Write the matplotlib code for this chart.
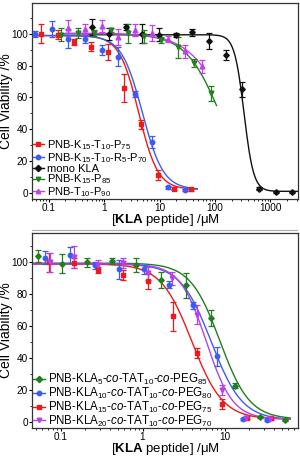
import numpy as np
import matplotlib
matplotlib.use("Agg")
import matplotlib.pyplot as plt
from matplotlib.lines import Line2D
from matplotlib.ticker import LogLocator, FixedLocator, FixedFormatter

plt.rcParams['font.family'] = ['Liberation Sans', 'DejaVu Sans']
plt.rcParams['mathtext.fontset'] = 'custom'
plt.rcParams['mathtext.rm'] = 'Liberation Sans'
plt.rcParams['mathtext.it'] = 'Liberation Sans:italic'
plt.rcParams['mathtext.bf'] = 'Liberation Sans:bold'

# ---- top panel data ----
top_labels = [r'PNB-K$_{15}$-T$_{10}$-P$_{75}$',
              r'PNB-K$_{15}$-T$_{10}$-R$_{5}$-P$_{70}$',
              'mono KLA',
              r'PNB-K$_{15}$-P$_{85}$',
              r'PNB-T$_{10}$-P$_{90}$']

red_x = [0.0725, 0.145, 0.29, 0.58, 1.16, 2.32, 4.64, 9.3, 18.6, 37.1]
red_y = [100, 99.5, 95, 92, 88.5, 66, 43, 11, 2.5, 2]
red_e = [6, 3, 2, 3, 5, 9, 3, 3, 1, 1]

blue_x = [0.0566, 0.113, 0.226, 0.453, 0.906, 1.81, 3.62, 7.25, 14.5, 29]
blue_y = [100, 103, 97, 97, 90, 85.5, 62, 32, 3.5, 1.8]
blue_e = [2, 5, 6, 3, 3, 6, 2, 4, 1, 0.5]

black_x = [0.61, 1.22, 2.44, 4.88, 9.77, 19.5, 39, 78, 156, 312, 625, 1250, 2500]
black_y = [104.5, 100, 104.5, 100, 99.5, 99.3, 101, 95.5, 86.7, 65, 2.5, 0.5, 0.5]
black_e = [5, 4, 2, 6, 4, 1, 2, 5, 3, 5, 1, 0.5, 0.5]

green_x = [0.167, 0.334, 0.668, 1.34, 2.67, 5.34, 10.7, 21.4, 42.7, 85.5]
green_y = [99.5, 100.5, 100.5, 102.5, 100.5, 98.5, 96, 91.5, 81.5, 62.5]
green_e = [4, 3, 2, 1.5, 6, 4, 2, 6.5, 2.5, 4.5]

purple_x = [0.226, 0.453, 0.906, 1.81, 3.62, 7.25, 14.5, 29, 58]
purple_y = [104, 103, 105, 98, 102.5, 100.5, 96.8, 89, 79.5]
purple_e = [5, 3, 3.5, 5, 4, 5, 2, 4, 4]

# Hill fit parameters: top, bottom, IC50, slope, x start, x end
red_fit = [99, 2, 4.2, 2.5, 0.05, 48]
blue_fit = [99, 2, 4.9, 2.3, 0.05, 48]
black_fit = [99.5, 0.8, 335, 5, 0.5, 3100]
green_fit = [100, 0, 123, 1.4, 0.15, 107]
purple_fit = [100.5, 0, 180, 1.2, 0.2, 63]

# ---- bottom panel data ----
bot_labels = [r'PNB-KLA$_{5}$-$\it{co}$-TAT$_{10}$-$\it{co}$-PEG$_{85}$',
              r'PNB-KLA$_{10}$-$\it{co}$-TAT$_{10}$-$\it{co}$-PEG$_{80}$',
              r'PNB-KLA$_{15}$-$\it{co}$-TAT$_{10}$-$\it{co}$-PEG$_{75}$',
              r'PNB-KLA$_{20}$-$\it{co}$-TAT$_{10}$-$\it{co}$-PEG$_{70}$']

kla5_x = [0.0527, 0.105, 0.211, 0.422, 0.843, 1.69, 3.37, 6.75, 13.5, 27, 54]
kla5_y = [104, 99, 100, 101, 98.5, 89, 85.5, 65, 22.5, 3, 1]
kla5_e = [3.5, 6, 3, 2, 4.5, 5, 8, 5, 1.5, 0.5, 0.5]

kla10_x = [0.0648, 0.13, 0.26, 0.52, 1.04, 2.08, 4.1, 8.2, 16.6, 33]
kla10_y = [103, 104.5, 98, 95.5, 95.5, 86, 73, 41, 1.5, 1]
kla10_e = [4, 5, 2, 6, 3, 2, 2, 6, 0.5, 0.5]

kla15_x = [0.0725, 0.145, 0.29, 0.58, 1.16, 2.32, 4.64, 9.3, 18.6, 37.1]
kla15_y = [100, 99.5, 95, 92, 88.5, 66, 43, 11, 2.5, 2]
kla15_e = [6, 3, 2, 3, 5, 9, 3, 3, 1, 1]

kla20_x = [0.074, 0.146, 0.29, 0.58, 1.17, 2.31, 4.6, 9.2, 18.2, 36]
kla20_y = [100, 103.5, 98.5, 99.5, 93, 90, 67, 20, 2, 1.8]
kla20_e = [6, 7, 3, 3, 4, 4, 6, 3, 0.5, 0.5]

kla5_fit = [99.5, 1.5, 8.8, 2.4, 0.045, 63]
kla10_fit = [99, 1, 6.9, 2.3, 0.045, 63]
kla15_fit = [99, 1.5, 4.0, 2.3, 0.045, 63]
kla20_fit = [99, 1.5, 6.0, 2.7, 0.045, 63]


def hill(p):
    top, bot, ic50, h, x0, x1 = p
    xs = np.logspace(np.log10(x0), np.log10(x1), 300)
    return xs, bot + (top - bot) / (1 + (xs / ic50) ** h)


def draw(ax, x, y, e, p, color, marker, ms):
    xs, ys = hill(p)
    ax.plot(xs, ys, color=color, lw=1.0, zorder=2)
    ax.errorbar(x, y, yerr=e, fmt=marker, color=color, ms=ms, elinewidth=0.9,
                capsize=2.2, capthick=0.9, zorder=3)


def style(ax, xlim, ylim, xticks):
    ax.set_xscale('log')
    ax.set_xlim(*xlim)
    ax.set_ylim(*ylim)
    ax.xaxis.set_major_locator(FixedLocator(xticks))
    ax.xaxis.set_major_formatter(FixedFormatter([('%g' % t) for t in xticks]))
    ax.xaxis.set_minor_locator(LogLocator(base=10, subs=np.arange(2, 10), numticks=20))
    ax.set_yticks([0, 20, 40, 60, 80, 100])
    ax.yaxis.set_minor_locator(FixedLocator([10, 30, 50, 70, 90, 110]))
    ax.tick_params(which='major', length=2.2, width=0.8, labelsize=7.2, pad=0.8)
    ax.tick_params(which='minor', length=1.5, width=0.6)
    for s in ax.spines.values():
        s.set_linewidth(0.9)
        s.set_color('#333333')
    ax.set_ylabel('Cell Viability /%', fontsize=10)
    ax.yaxis.set_label_coords(-0.072, 0.5)
    ax.set_xlabel(r'[$\mathbf{KLA}$ peptide] /μM', fontsize=9.5, labelpad=-1.0)


fig = plt.figure(figsize=(3.0, 4.58), dpi=100)

ax1 = fig.add_axes([0.1067, 0.5655, 0.8867, 0.4280])
c_red, c_blue, c_black, c_green, c_purple = '#f01818', '#3b5cf2', '#111111', '#23801f', '#c23ff0'
draw(ax1, red_x, red_y, red_e, red_fit, c_red, 's', 3.2)
draw(ax1, blue_x, blue_y, blue_e, blue_fit, c_blue, 'o', 3.2)
draw(ax1, black_x, black_y, black_e, black_fit, c_black, 'D', 2.8)
draw(ax1, green_x, green_y, green_e, green_fit, c_green, 'v', 3.4)
draw(ax1, purple_x, purple_y, purple_e, purple_fit, c_purple, '^', 3.4)
style(ax1, (0.05, 3160), (-4.0, 119.5), [0.1, 1, 10, 100, 1000])
h1 = [Line2D([], [], color=c, marker=m, ms=3.2, lw=1.0)
      for c, m in zip([c_red, c_blue, c_black, c_green, c_purple], ['s', 'o', 'D', 'v', '^'])]
ax1.legend(h1, top_labels, loc='lower left', bbox_to_anchor=(-0.005, -0.012), frameon=False,
           fontsize=8, handlelength=1.0, handletextpad=0.3, labelspacing=-0.1,
           borderaxespad=0.0, borderpad=0.2)

ax2 = fig.add_axes([0.1067, 0.0655, 0.8867, 0.4258])
c_g2, c_b2, c_r2, c_p2 = '#1f7f1f', '#3b5cf2', '#f01818', '#b840ea'
draw(ax2, kla5_x, kla5_y, kla5_e, kla5_fit, c_g2, 'D', 2.8)
draw(ax2, kla10_x, kla10_y, kla10_e, kla10_fit, c_b2, 'o', 3.2)
draw(ax2, kla15_x, kla15_y, kla15_e, kla15_fit, c_r2, 's', 3.2)
draw(ax2, kla20_x, kla20_y, kla20_e, kla20_fit, c_p2, 'v', 3.4)
style(ax2, (0.0449, 78.7), (-4.0, 118.4), [0.1, 1, 10])
h2 = [Line2D([], [], color=c, marker=m, ms=3.2, lw=1.0)
      for c, m in zip([c_g2, c_b2, c_r2, c_p2], ['D', 'o', 's', 'v'])]
ax2.legend(h2, bot_labels, loc='lower left', bbox_to_anchor=(-0.005, -0.015), frameon=False,
           fontsize=8.3, handlelength=1.0, handletextpad=0.3, labelspacing=-0.12,
           borderaxespad=0.0, borderpad=0.2)

# thin separator between the two images
fig.add_artist(Line2D([0.107, 0.99], [1 - 229.5 / 458, 1 - 229.5 / 458],
                      color='#aaaaaa', lw=0.8))

fig.savefig('out.png', dpi=100)
